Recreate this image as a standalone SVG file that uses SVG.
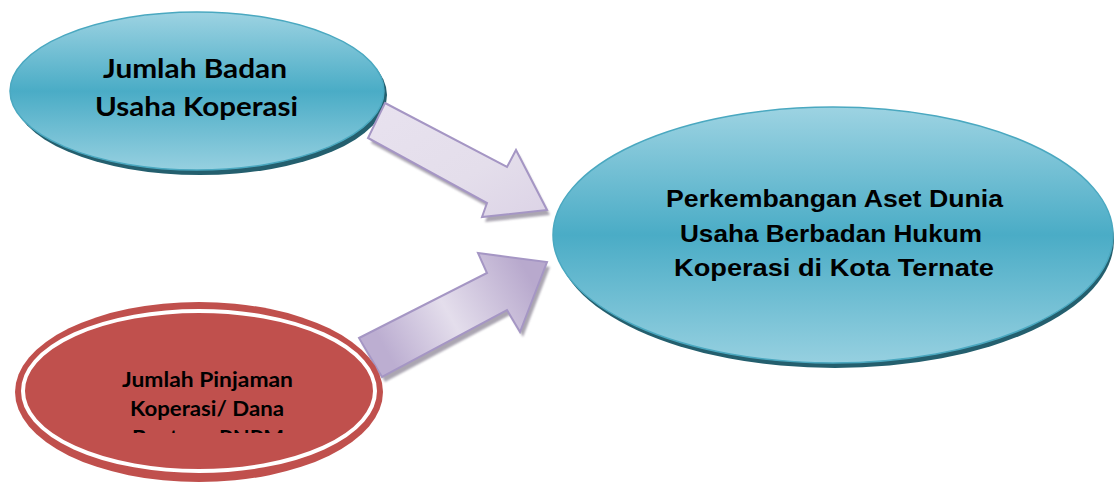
<svg xmlns="http://www.w3.org/2000/svg" width="1115" height="486" viewBox="0 0 1115 486">
<style>
.blue{fill:url(#gBlue);stroke:#4aa8c0;stroke-width:1.5}
.rim{fill:#245f6e}
.arrow{stroke:#a596c4;stroke-width:2;stroke-linejoin:miter}
.ashadow{fill:#8f8898;opacity:0.75}
.t1{font-family:Lato,"Open Sans",sans-serif;font-weight:bold;fill:#000;text-anchor:middle}
.t2{font-family:"Liberation Sans",Arial,sans-serif;font-weight:bold;fill:#000;text-anchor:middle;font-size:24px}
</style>
<defs>
<linearGradient id="gBlue" x1="0" y1="0" x2="0" y2="1">
<stop offset="0" stop-color="#9dd3e2"/>
<stop offset="0.5" stop-color="#4aacc6"/>
<stop offset="1" stop-color="#96d0e0"/>
</linearGradient>
<linearGradient id="gA1" x1="0" y1="0" x2="1" y2="1">
<stop offset="0" stop-color="#e8e2ef"/>
<stop offset="0.6" stop-color="#e4deeb"/>
<stop offset="1" stop-color="#dcd3e6"/>
</linearGradient>
<linearGradient id="gA2" gradientUnits="userSpaceOnUse" x1="380" y1="340" x2="520" y2="260">
<stop offset="0" stop-color="#bcaed1"/>
<stop offset="0.45" stop-color="#e4deec"/>
<stop offset="1" stop-color="#b8a9cd"/>
</linearGradient>
<filter id="blur" x="-10%" y="-10%" width="120%" height="120%"><feGaussianBlur stdDeviation="1.2"/></filter>
<clipPath id="clipRed"><rect x="0" y="0" width="400" height="433"/></clipPath>
</defs>

<g id="node-badan-usaha">
<ellipse class="rim" cx="200" cy="95" rx="187" ry="80"/>
<ellipse class="blue" cx="197" cy="91" rx="187" ry="79"/>
<text class="t1" font-size="27" x="195" y="78" textLength="184" lengthAdjust="spacingAndGlyphs">Jumlah Badan</text>
<text class="t1" font-size="27" x="196.5" y="116" textLength="203" lengthAdjust="spacingAndGlyphs">Usaha Koperasi</text>
</g>

<g id="node-aset">
<ellipse class="rim" cx="835" cy="240" rx="279" ry="128"/>
<ellipse class="blue" cx="833" cy="235" rx="280" ry="128"/>
<text class="t2" x="834.5" y="207" textLength="337" lengthAdjust="spacingAndGlyphs">Perkembangan Aset Dunia</text>
<text class="t2" x="831" y="242" textLength="302" lengthAdjust="spacingAndGlyphs">Usaha Berbadan Hukum</text>
<text class="t2" x="834" y="276" textLength="320" lengthAdjust="spacingAndGlyphs">Koperasi di Kota Ternate</text>
</g>

<g id="connectors">
<g id="arrow-1">
<polygon class="ashadow" filter="url(#blur)" points="388,108 510,172 519,155 550,215 485,222 490,208 371,143"/>
<polygon class="arrow" fill="url(#gA1)" points="385,103 507,167 516,150 547,210 482,217 487,203 368,138"/>
</g>
<g id="arrow-2">
<polygon class="ashadow" filter="url(#blur)" points="362,343 490,278 481,258 550,267 523,337 510,315 385,382"/>
<polygon class="arrow" fill="url(#gA2)" points="359,338 487,273 478,253 547,262 520,332 507,310 382,377"/>
</g>
</g>

<g id="node-pinjaman">
<ellipse cx="199" cy="392" rx="184" ry="90" fill="#c0504d"/>
<ellipse cx="199" cy="391" rx="176" ry="80" fill="#c0504d" stroke="#ffffff" stroke-width="4"/>
<text class="t1" font-size="20" x="207.5" y="387" textLength="171" lengthAdjust="spacingAndGlyphs">Jumlah Pinjaman</text>
<text class="t1" font-size="20" x="207" y="416" textLength="154" lengthAdjust="spacingAndGlyphs">Koperasi/ Dana</text>
<text class="t1" font-size="20" x="208" y="445" textLength="152" lengthAdjust="spacingAndGlyphs" clip-path="url(#clipRed)">Bantuan PNPM</text>
</g>
</svg>
